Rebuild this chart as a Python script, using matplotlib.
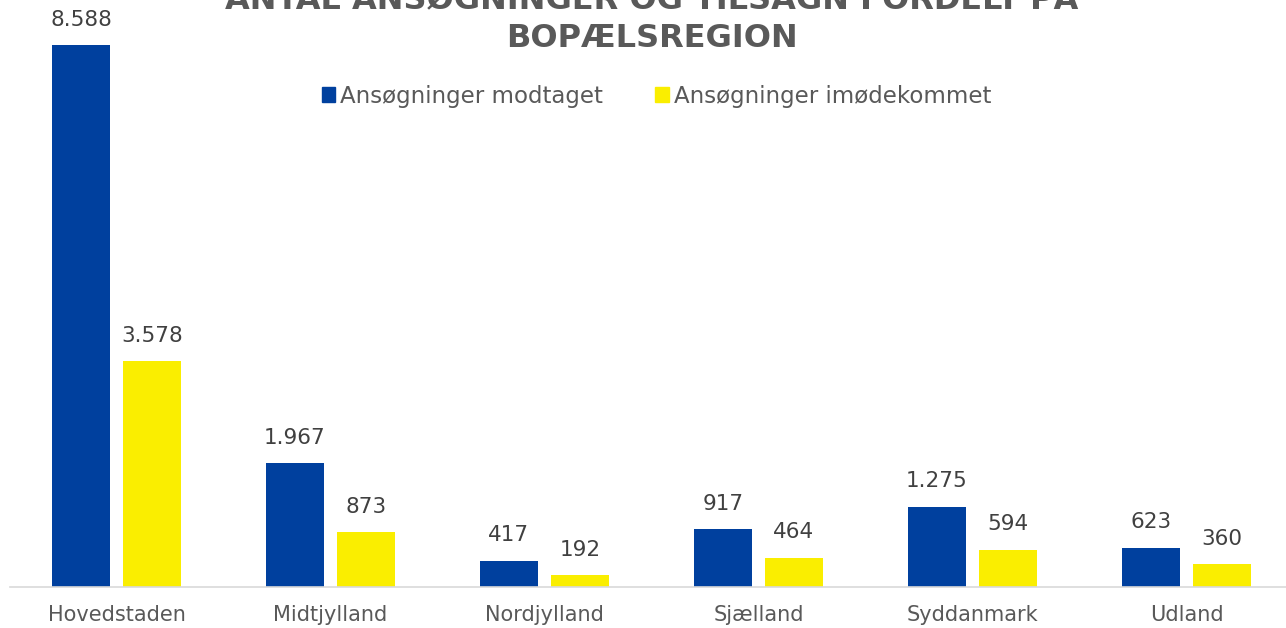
import numpy as np
import matplotlib.pyplot as plt
from matplotlib.patches import Patch

# --- data ---
regions = ['Hovedstaden', 'Midtjylland', 'Nordjylland', 'Sjælland', 'Syddanmark', 'Udland']
modtaget = [8588, 1967, 417, 917, 1275, 623]
imoedekommet = [3578, 873, 192, 464, 594, 360]
series_names = ['Ansøgninger modtaget', 'Ansøgninger imødekommet']

blue = '#00409E'
yellow = '#FAEE00'
txt_gray = '#595959'
val_gray = '#404040'

plt.rcParams['font.family'] = ['DejaVu Sans']

W, H = 1286, 628
fig = plt.figure(figsize=(W / 100, H / 100), dpi=100)
# axes runs slightly past the right edge, like the original crop
ax = fig.add_axes([9.5 / W, (H - 587) / H, 1284 / W, 587 / H])

x = np.arange(len(regions))
w = 0.271
off = 0.166
b1 = ax.bar(x - off, modtaget, w, color=blue)
b2 = ax.bar(x + off, imoedekommet, w, color=yellow)

def fmt(v):
    return f"{v:,}".replace(',', '.')

for bars, vals in ((b1, modtaget), (b2, imoedekommet)):
    for r, v in zip(bars, vals):
        ax.annotate(fmt(v), (r.get_x() + r.get_width() / 2, r.get_height()),
                    xytext=(0, 11), textcoords='offset points',
                    ha='center', va='bottom', fontsize=15.5, color=val_gray)

ax.set_xlim(-0.5, len(regions) - 0.5)
ax.set_ylim(0, 9300)
ax.set_xticks(x)
ax.set_xticklabels(regions, fontsize=15, color=txt_gray)
ax.tick_params(axis='x', length=0, pad=13)
ax.set_yticks([])
for s in ['top', 'right', 'left']:
    ax.spines[s].set_visible(False)
ax.spines['bottom'].set_color('#D9D9D9')
ax.spines['bottom'].set_linewidth(1.2)

# title (top line is cut off in the original)
fig.text(652 / W, 1 - 8 / H, 'ANTAL ANSØGNINGER OG TILSAGN FORDELT PÅ',
         ha='center', va='baseline', fontsize=23, fontweight='bold', color=txt_gray)
fig.text(652 / W, 1 - 47 / H, 'BOPÆLSREGION',
         ha='center', va='baseline', fontsize=23, fontweight='bold', color=txt_gray)

handles = [Patch(color=blue), Patch(color=yellow)]
fig.legend(handles, series_names, loc='center', bbox_to_anchor=(656.5 / W, 1 - 96 / H),
           ncol=2, frameon=False, fontsize=16.5, labelcolor=txt_gray,
           handlelength=0.6, handleheight=0.6, handletextpad=0.22, columnspacing=2.27)

fig.savefig('out.png', dpi=100)
